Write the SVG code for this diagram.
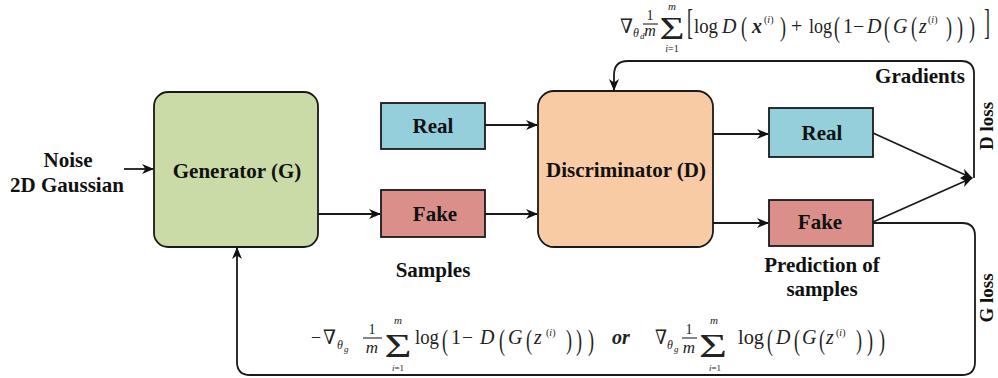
<svg xmlns="http://www.w3.org/2000/svg" width="998" height="378" viewBox="0 0 998 378">
<style>
.lbl{font-family:"Liberation Serif","Times New Roman",serif;font-weight:bold;font-size:21px;fill:#111;}
.mid{text-anchor:middle;}
.box{stroke:#1a1a1a;stroke-width:1.8;}
.ln{fill:none;stroke:#1a1a1a;stroke-width:1.8;}
.m{font-family:"Liberation Serif","DejaVu Serif",serif;font-size:20px;fill:#222;}
.it{font-style:italic;}
.bar{stroke:#222;stroke-width:1.1;}
</style>
<defs>
<marker id="ah" viewBox="0 0 12 10" refX="11" refY="5" markerWidth="12" markerHeight="10" markerUnits="userSpaceOnUse" orient="auto">
<path d="M0,0 L12,5 L0,10 L3.5,5 z" fill="#111"/>
</marker>
</defs>
<rect width="998" height="378" fill="#ffffff"/>

<g id="connectors">
<line class="ln" x1="124" y1="169" x2="153" y2="169" marker-end="url(#ah)"/>
<line class="ln" x1="318" y1="214" x2="380" y2="214" marker-end="url(#ah)"/>
<line class="ln" x1="485" y1="125" x2="537" y2="125" marker-end="url(#ah)"/>
<line class="ln" x1="485" y1="214" x2="537" y2="214" marker-end="url(#ah)"/>
<line class="ln" x1="713" y1="134" x2="768" y2="134" marker-end="url(#ah)"/>
<line class="ln" x1="713" y1="223" x2="768" y2="223" marker-end="url(#ah)"/>
<line class="ln" x1="873" y1="133" x2="972" y2="178" marker-end="url(#ah)"/>
<line class="ln" x1="873" y1="222" x2="972" y2="178" marker-end="url(#ah)"/>
<path class="ln" d="M974,178 L974,74 Q974,61 961,61 L628,61 Q614,61 614,75 L614,90" marker-end="url(#ah)"/>
<path class="ln" d="M873,223 L962,223 Q975,223 975,236 L975,362 Q975,375 962,375 L250,375 Q237,375 237,362 L237,248" marker-end="url(#ah)"/>
</g>

<g id="noise">
<text class="lbl mid" x="68" y="167">Noise</text>
<text class="lbl mid" x="67" y="192">2D Gaussian</text>
</g>

<g id="generator">
<rect class="box" x="154" y="92" width="164" height="155" rx="14" fill="#cbdba7"/>
<text class="lbl mid" x="237" y="178">Generator (G)</text>
</g>

<g id="real-sample">
<rect class="box" x="381" y="103" width="104" height="46" fill="#95cfdc"/>
<text class="lbl mid" x="433" y="133">Real</text>
</g>

<g id="fake-sample">
<rect class="box" x="381" y="190" width="104" height="47" fill="#da8f8b"/>
<text class="lbl mid" x="435" y="221">Fake</text>
</g>

<g id="samples-label">
<text class="lbl mid" x="433" y="277">Samples</text>
</g>

<g id="discriminator">
<rect class="box" x="538" y="91" width="175" height="156" rx="16" fill="#f9cba5"/>
<text class="lbl mid" x="626" y="177">Discriminator (D)</text>
</g>

<g id="real-pred">
<rect class="box" x="769" y="108" width="104" height="49" fill="#95cfdc"/>
<text class="lbl mid" x="822" y="140">Real</text>
</g>

<g id="fake-pred">
<rect class="box" x="769" y="200" width="104" height="46" fill="#da8f8b"/>
<text class="lbl mid" x="820" y="229">Fake</text>
</g>

<g id="prediction-label">
<text class="lbl mid" x="822" y="272">Prediction of</text>
<text class="lbl mid" x="822" y="296">samples</text>
</g>

<g id="loss-labels">
<text class="lbl mid" x="920" y="83">Gradients</text>
<text class="lbl mid" transform="translate(993,126) rotate(-90)" style="font-size:19px">D loss</text>
<text class="lbl mid" transform="translate(993,298) rotate(-90)" style="font-size:19px">G loss</text>
</g>

<g id="formula-d">
<text class="m" x="620" y="33" textLength="13" lengthAdjust="spacingAndGlyphs">∇</text>
<text class="m it" x="633" y="37" style="font-size:12px">θ</text>
<text class="m it" x="640" y="39" style="font-size:9px">d</text>
<text class="m mid" x="650" y="20" style="font-size:14px">1</text>
<line class="bar" x1="643" y1="24" x2="658" y2="24"/>
<text class="m it mid" x="650" y="36" style="font-size:16px">m</text>
<text class="m mid" x="672" y="39" style="font-size:32px" textLength="25" lengthAdjust="spacingAndGlyphs">Σ</text>
<text class="m it mid" x="672" y="10" style="font-size:11px">m</text>
<text class="m mid" x="672" y="52" style="font-size:10px"><tspan class="it">i</tspan>=1</text>
<text class="m" x="687" y="34" style="font-size:36px" textLength="6" lengthAdjust="spacingAndGlyphs">[</text>
<text class="m" x="694" y="33" textLength="24" lengthAdjust="spacingAndGlyphs">log</text>
<text class="m it" x="722" y="33">D</text>
<text class="m" x="741" y="36" style="font-size:28px" textLength="6" lengthAdjust="spacingAndGlyphs">(</text>
<text class="m it" x="752" y="33" style="font-weight:bold">x</text>
<text class="m" x="764" y="23" style="font-size:10px">(<tspan class="it">i</tspan>)</text>
<text class="m" x="780" y="36" style="font-size:28px" textLength="6" lengthAdjust="spacingAndGlyphs">)</text>
<text class="m" x="791" y="33">+</text>
<text class="m" x="809" y="33" textLength="23" lengthAdjust="spacingAndGlyphs">log</text>
<text class="m" x="834" y="37" style="font-size:30px" textLength="6" lengthAdjust="spacingAndGlyphs">(</text>
<text class="m" x="843" y="33">1</text>
<text class="m" x="853" y="33">−</text>
<text class="m it" x="867" y="33">D</text>
<text class="m" x="884" y="37" style="font-size:30px" textLength="6" lengthAdjust="spacingAndGlyphs">(</text>
<text class="m it" x="893" y="33">G</text>
<text class="m" x="911" y="36" style="font-size:28px" textLength="6" lengthAdjust="spacingAndGlyphs">(</text>
<text class="m it" x="919" y="33">z</text>
<text class="m" x="928" y="23" style="font-size:10px">(<tspan class="it">i</tspan>)</text>
<text class="m" x="946" y="36" style="font-size:28px" textLength="6" lengthAdjust="spacingAndGlyphs">)</text>
<text class="m" x="957" y="37" style="font-size:30px" textLength="6" lengthAdjust="spacingAndGlyphs">)</text>
<text class="m" x="969" y="37" style="font-size:30px" textLength="6" lengthAdjust="spacingAndGlyphs">)</text>
<text class="m" x="984" y="34" style="font-size:36px" textLength="6" lengthAdjust="spacingAndGlyphs">]</text>
</g>

<g id="formula-g">
<text class="m" x="311" y="344" textLength="10" lengthAdjust="spacingAndGlyphs">−</text>
<text class="m" x="323" y="344" textLength="13" lengthAdjust="spacingAndGlyphs">∇</text>
<text class="m it" x="337" y="349" style="font-size:12px">θ</text>
<text class="m it" x="344" y="352" style="font-size:9px">g</text>
<text class="m mid" x="372" y="334" style="font-size:14px">1</text>
<line class="bar" x1="363" y1="338" x2="382" y2="338"/>
<text class="m it mid" x="372" y="353" style="font-size:17px">m</text>
<text class="m mid" x="398" y="357" style="font-size:34px" textLength="27" lengthAdjust="spacingAndGlyphs">Σ</text>
<text class="m it mid" x="398" y="324" style="font-size:11px">m</text>
<text class="m mid" x="398" y="371" style="font-size:9px"><tspan class="it">i</tspan>=1</text>
<text class="m" x="415" y="344" textLength="24" lengthAdjust="spacingAndGlyphs">log</text>
<text class="m" x="442" y="350" style="font-size:30px" textLength="6" lengthAdjust="spacingAndGlyphs">(</text>
<text class="m" x="451" y="344">1</text>
<text class="m" x="462" y="344" textLength="11" lengthAdjust="spacingAndGlyphs">−</text>
<text class="m it" x="480" y="344">D</text>
<text class="m" x="499" y="350" style="font-size:30px" textLength="6" lengthAdjust="spacingAndGlyphs">(</text>
<text class="m it" x="508" y="344">G</text>
<text class="m" x="526" y="349" style="font-size:28px" textLength="6" lengthAdjust="spacingAndGlyphs">(</text>
<text class="m it" x="534" y="344">z</text>
<text class="m" x="546" y="336" style="font-size:10px">(<tspan class="it">i</tspan>)</text>
<text class="m" x="566" y="349" style="font-size:28px" textLength="6" lengthAdjust="spacingAndGlyphs">)</text>
<text class="m" x="576" y="350" style="font-size:30px" textLength="6" lengthAdjust="spacingAndGlyphs">)</text>
<text class="m" x="588" y="350" style="font-size:30px" textLength="6" lengthAdjust="spacingAndGlyphs">)</text>
<text class="m it" x="612" y="344" style="font-weight:bold">or</text>
<text class="m" x="655" y="344" textLength="12" lengthAdjust="spacingAndGlyphs">∇</text>
<text class="m it" x="667" y="349" style="font-size:12px">θ</text>
<text class="m it" x="674" y="352" style="font-size:9px">g</text>
<text class="m mid" x="689" y="334" style="font-size:14px">1</text>
<line class="bar" x1="682" y1="338" x2="697" y2="338"/>
<text class="m it mid" x="689" y="353" style="font-size:17px">m</text>
<text class="m mid" x="713" y="357" style="font-size:34px" textLength="28" lengthAdjust="spacingAndGlyphs">Σ</text>
<text class="m it mid" x="714" y="324" style="font-size:11px">m</text>
<text class="m mid" x="715" y="371" style="font-size:9px"><tspan class="it">i</tspan>=1</text>
<text class="m" x="738" y="344" textLength="26" lengthAdjust="spacingAndGlyphs">log</text>
<text class="m" x="767" y="350" style="font-size:30px" textLength="6" lengthAdjust="spacingAndGlyphs">(</text>
<text class="m it" x="776" y="344">D</text>
<text class="m" x="794" y="350" style="font-size:30px" textLength="6" lengthAdjust="spacingAndGlyphs">(</text>
<text class="m it" x="802" y="344">G</text>
<text class="m" x="819" y="349" style="font-size:28px" textLength="6" lengthAdjust="spacingAndGlyphs">(</text>
<text class="m it" x="826" y="344">z</text>
<text class="m" x="836" y="336" style="font-size:10px">(<tspan class="it">i</tspan>)</text>
<text class="m" x="856" y="349" style="font-size:28px" textLength="6" lengthAdjust="spacingAndGlyphs">)</text>
<text class="m" x="867" y="350" style="font-size:30px" textLength="6" lengthAdjust="spacingAndGlyphs">)</text>
<text class="m" x="879" y="350" style="font-size:30px" textLength="6" lengthAdjust="spacingAndGlyphs">)</text>
</g>
</svg>
